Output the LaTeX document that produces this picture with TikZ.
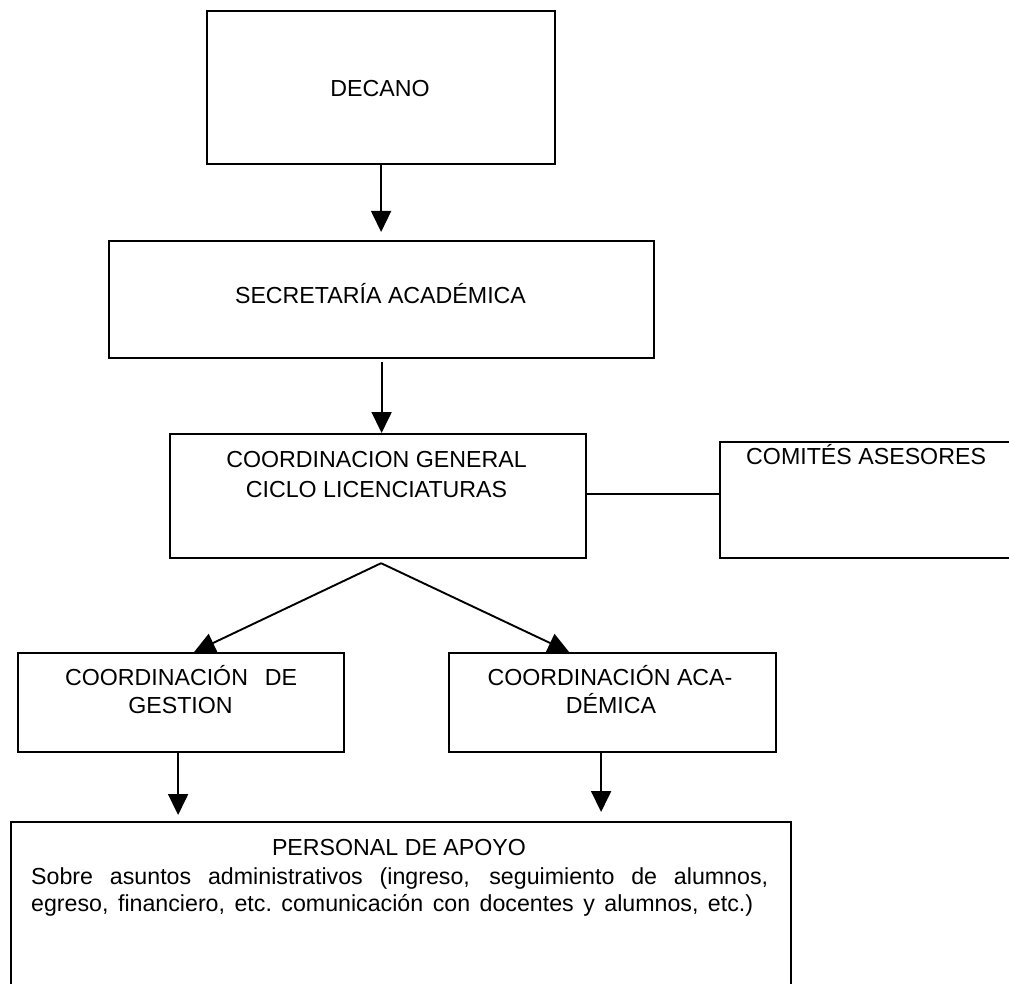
\documentclass[tikz,border=0pt]{standalone}
\usepackage{fontspec}
\setmainfont{Liberation Sans}
\usetikzlibrary{arrows.meta}
\begin{document}
\begin{tikzpicture}[x=1pt,y=-1pt,
  box/.style={draw, line width=2.2pt, inner sep=0pt, anchor=north west},
  lbl/.style={inner sep=0pt, anchor=base, font=\fontsize{23.2}{28}\selectfont},
  conn/.style={line width=1.9pt},
  arr/.style={conn, -{Triangle[width=20pt,length=21pt]}}]
\fill[white] (0,0) rectangle (1009,984);
\useasboundingbox (0,0) rectangle (1009,984);
% boxes
\node[box, minimum width=348pt, minimum height=153pt] (decano) at (206,10) {};
\node[box, minimum width=545pt, minimum height=117pt] (secre) at (108,240) {};
\node[box, minimum width=416pt, minimum height=124pt] (cgen) at (169,433) {};
\node[box, minimum width=296pt, minimum height=116pt] (comites) at (719,441) {};
\node[box, minimum width=326pt, minimum height=99pt] (gestion) at (17,652) {};
\node[box, minimum width=327pt, minimum height=99pt] (acad) at (448,652) {};
\node[box, minimum width=780pt, minimum height=174pt] (personal) at (10,821) {};
% texts
\node[lbl] (tDecano) at (380,97) {DECANO};
\node[lbl] (tSecre) at (380.5,303) {SECRETARÍA ACADÉMICA};
\node[lbl] (tCgen1) at (376.5,467) {COORDINACION GENERAL};
\node[lbl] (tCgen2) at (376.5,497) {CICLO LICENCIATURAS};
\node[lbl, anchor=base west] (tComites) at (746,464) {COMITÉS ASESORES};
\node[lbl] (tGes1) at (181,685) {\makebox[232pt][s]{COORDINACIÓN DE}};
\node[lbl] (tGes2) at (180.5,713) {GESTION};
\node[lbl] (tAcad1) at (610,685) {COORDINACIÓN ACA-};
\node[lbl] (tAcad2) at (611,713) {DÉMICA};
\node[lbl] (tPers) at (399,855) {PERSONAL DE APOYO};
\node[lbl, anchor=base west] (tBody1) at (31,884) {\makebox[737pt][s]{Sobre asuntos administrativos (ingreso, seguimiento de alumnos,}};
\node[lbl, anchor=base west] (tBody2) at (31,911) {\frenchspacing\makebox[722pt][s]{egreso, financiero, etc.\ comunicación con docentes y alumnos, etc.)}};
% connectors
\draw[arr, line width=1.5pt, shorten >=8pt] (decano.south) -- (decano.south |- secre.north);
\draw[arr, shorten <=3pt] (secre.south) -- (secre.south |- cgen.north);
\draw[conn] ([yshift=2pt]cgen.east) -- ([yshift=2pt]cgen.east -| comites.west);
\coordinate (apex) at ([xshift=3pt,yshift=-4pt]cgen.south);
\draw[arr] (apex) -- ([xshift=13pt]gestion.north);
\draw[arr] (apex) -- ([xshift=-43.5pt]acad.north);
\draw[arr, shorten >=6pt] ([xshift=-3pt]gestion.south) -- ([xshift=-3pt]gestion.south |- personal.north);
\draw[arr, shorten >=9pt] ([xshift=-11.5pt]acad.south) -- ([xshift=-11.5pt]acad.south |- personal.north);
\end{tikzpicture}
\end{document}
